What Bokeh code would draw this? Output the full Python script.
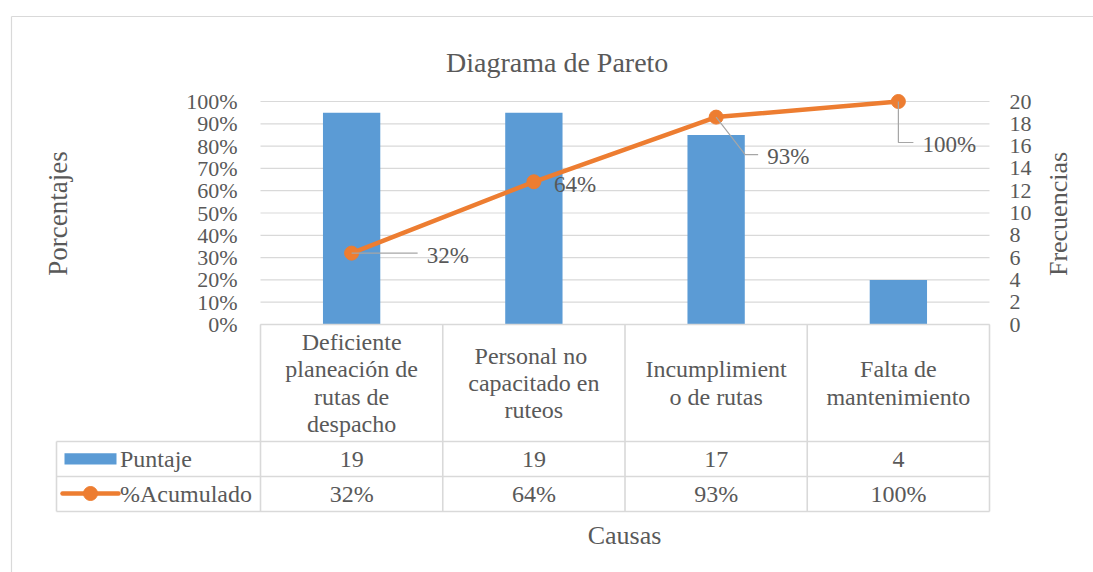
import math
from bokeh.plotting import figure
from bokeh.models import Range1d, LinearAxis, FixedTicker, NumeralTickFormatter
from bokeh.core.properties import value
from bokeh.embed import file_html
from bokeh.resources import INLINE

# ---------------- data ----------------
categories = ["Deficiente\nplaneación de\nrutas de\ndespacho",
              "Personal  no\ncapacitado en\nruteos",
              "Incumplimient\no de rutas",
              "Falta de\nmantenimiento"]
puntaje = [19, 19, 17, 4]
acumulado = [0.32, 0.64, 0.93, 1.00]
pct_ticks = [0.0, 0.1, 0.2, 0.3, 0.4, 0.5, 0.6, 0.7, 0.8, 0.9, 1.0]
freq_ticks = [0, 2, 4, 6, 8, 10, 12, 14, 16, 18, 20]
series_names = ["Puntaje", "%Acumulado"]
title_text = "Diagrama de Pareto"
x_title = "Causas"
y_title = "Porcentajes"
y2_title = "Frecuencias"

# ---------------- layout / style ----------------
W, H = 1093, 572
FL, FR = 260, 989          # plot area left/right (page px)
Y0, Y100 = 324, 101        # page y of 0 % and 100 %
FONT = "Liberation Serif"
GREY = "#595959"
BLUE = "#5B9BD5"
ORANGE = "#ED7D31"
LINE = "#D9D9D9"
FS_TICK = "22px"
FS_LAB = "23px"
FS_TAB = "24px"

n = len(categories)
ppx = (FR - FL) / n
ppy = (Y0 - Y100)


def X(px):
    return (px - FL) / ppx


def Y(py):
    return (Y0 - py) / ppy


p = figure(width=W, height=H, x_range=Range1d(X(0), X(W)), y_range=Range1d(Y(H), Y(0)),
           output_backend="svg", toolbar_location=None,
           x_axis_location=None, y_axis_location=None, min_border=0,
           outline_line_color=None, background_fill_color="white",
           border_fill_color="white")
p.grid.visible = False
p.extra_y_ranges = {"freq": Range1d(freq_ticks[-1] * Y(H), freq_ticks[-1] * Y(0))}


def txt(x, y, s, size=FS_TAB, align="center", baseline="middle", angle=0.0, lh=1.2):
    p.text(x=[x], y=[y], text=[s], text_font=value(FONT), text_font_size=size,
           text_color=GREY, text_align=align, text_baseline=baseline, angle=angle,
           text_line_height=lh)


# chart border (top + left)
p.segment(x0=[X(11), X(11)], y0=[Y(16), Y(16)], x1=[X(W + 20), X(11)], y1=[Y(16), Y(H + 20)],
          line_color=LINE, line_width=1.2)

# gridlines at the percentage ticks
p.segment(x0=[0] * len(pct_ticks), x1=[n] * len(pct_ticks), y0=pct_ticks, y1=pct_ticks,
          line_color=LINE, line_width=1.2)

# axes placed at the plot-area edges
ax_l = LinearAxis(ticker=FixedTicker(ticks=pct_ticks), fixed_location=0,
                  formatter=NumeralTickFormatter(format="0%"))
ax_r = LinearAxis(y_range_name="freq", ticker=FixedTicker(ticks=freq_ticks), fixed_location=n)
for ax, so in ((ax_l, 23), (ax_r, 20)):
    ax.axis_line_color = None
    ax.major_tick_line_color = None
    ax.minor_tick_line_color = None
    ax.major_tick_out = 0
    ax.major_tick_in = 0
    ax.major_label_standoff = so
    ax.major_label_text_font = FONT
    ax.major_label_text_font_size = FS_TICK
    ax.major_label_text_color = GREY
p.add_layout(ax_l, "left")
p.add_layout(ax_r, "right")

xc = [i + 0.5 for i in range(n)]

# bars and line
p.vbar(x=xc, top=puntaje, width=0.3145, y_range_name="freq",
       fill_color=BLUE, line_color=None)
p.line(xc, acumulado, line_color=ORANGE, line_width=4.5, line_join="round")
p.scatter(xc, acumulado, size=14, fill_color=ORANGE, line_color=ORANGE)

# data labels with leader lines (offsets in px)
lab_dx = [75, 20, 51, 24]
lab_dy = [2.5, 3, 39.5, 43]
leaders = [[(0, 0), (66, 0)], None, [(0, 0), (29, 37.5), (42, 37.5)], [(0, 0), (0, 41), (15, 41)]]
lxs, lys = [], []
for i, ld in enumerate(leaders):
    if ld is None:
        continue
    lxs.append([xc[i] + a / ppx for a, b in ld])
    lys.append([acumulado[i] - b / ppy for a, b in ld])
p.multi_line(lxs, lys, line_color="#A6A6A6", line_width=1.2)

pct_text = ["%d%%" % round(v * 100) for v in acumulado]
for i in range(n):
    txt(xc[i] + lab_dx[i] / ppx, acumulado[i] - lab_dy[i] / ppy, pct_text[i],
        size=FS_LAB, align="left")

# ---------------- data table ----------------
rows_px = [324, 441, 476, 511]
left_px = 56
sx0, sy0, sx1, sy1 = [0], [Y(rows_px[0])], [n], [Y(rows_px[0])]
for r in rows_px[1:]:
    sx0.append(X(left_px)); sy0.append(Y(r)); sx1.append(n); sy1.append(Y(r))
sx0.append(X(left_px)); sy0.append(Y(rows_px[1])); sx1.append(X(left_px)); sy1.append(Y(rows_px[-1]))
for i in range(n + 1):
    sx0.append(i); sy0.append(Y(rows_px[0])); sx1.append(i); sy1.append(Y(rows_px[-1]))
p.segment(x0=sx0, y0=sy0, x1=sx1, y1=sy1, line_color=LINE, line_width=1.6)

hdr_y = Y((rows_px[0] + rows_px[1]) / 2)
r1_y = Y((rows_px[1] + rows_px[2]) / 2)
r2_y = Y((rows_px[2] + rows_px[3]) / 2)
for i in range(n):
    txt(xc[i], hdr_y, categories[i], lh=1.055)
    txt(xc[i], r1_y, str(puntaje[i]))
    txt(xc[i], r2_y, pct_text[i])

# legend keys in the table
p.quad(left=[X(64)], right=[X(116)], top=[Y(452.7)], bottom=[Y(464)],
       fill_color=BLUE, line_color=None)
p.line([X(62), X(118)], [Y(493), Y(493)], line_color=ORANGE, line_width=4.5, line_cap="round")
p.scatter([X(90)], [Y(493)], size=14, fill_color=ORANGE, line_color=ORANGE)
for name, yy in zip(series_names, (r1_y, r2_y)):
    txt(X(119.5), yy, name, align="left")

# titles
txt(X(556.7), Y(61.7), title_text, size="28px", baseline="alphabetic")
txt(X(624), Y(535), x_title, size="26px")
txt(X(57), Y(213), y_title, size="27px", angle=math.pi / 2)
txt(X(1058), Y(213.5), y2_title, size="26px", angle=math.pi / 2)

open("out.html", "w").write(file_html(p, INLINE))
